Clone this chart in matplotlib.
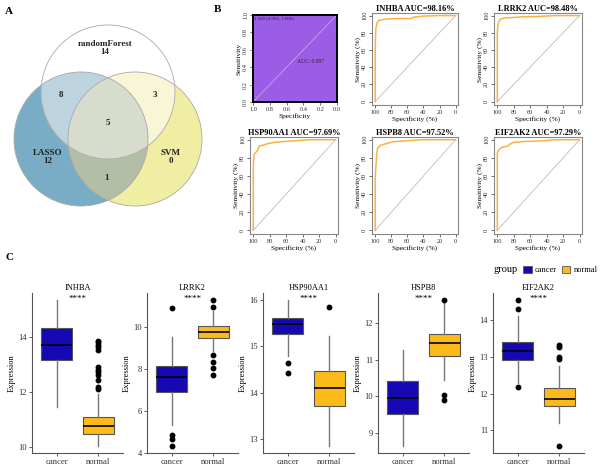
import numpy as np
import matplotlib
matplotlib.use("Agg")
import matplotlib.pyplot as plt
from matplotlib.patches import Circle, Patch, Polygon

plt.rcParams['font.family'] = ['Liberation Serif', 'DejaVu Serif']

# ---- data ----
venn_sets = ["randomForest", "LASSO", "SVM"]
venn_only = [14, 12, 0]
venn_pairs = [8, 3, 1]          # LASSO&RF, RF&SVM, LASSO&SVM
venn_all = 5

roc_genes = ["INHBA", "LRRK2", "HSP90AA1", "HSPB8", "EIF2AK2"]
roc_auc = [98.16, 98.48, 97.69, 97.52, 97.29]
roc_spec = [
    [100, 100, 99.5, 99, 97.5, 96, 93, 85, 75, 55, 53, 45, 38, 20, 0],
    [100, 100, 99, 98, 96, 92, 85, 70, 50, 30, 0],
    [100, 100, 100, 99, 97, 95, 93, 88, 84, 75, 63, 47, 30, 0],
    [100, 100, 99.5, 98, 97, 93, 89, 79, 62, 41, 0],
    [100, 100, 99, 97, 93, 87, 85, 80.5, 68, 40, 32, 0],
]
roc_sens = [
    [0, 60, 79, 86, 92, 94, 95, 96, 96.5, 96.5, 98, 99, 99.5, 100, 100],
    [0, 80, 90, 93, 96, 97, 97.5, 98.5, 99, 100, 100],
    [0, 50, 70, 84, 86, 88, 93, 94, 95.3, 97, 98, 99, 100, 100],
    [0, 56, 66, 85, 91, 94, 95, 97.6, 98.8, 100, 100],
    [0, 85, 88, 90, 92, 93, 95, 97, 98, 99, 100, 100],
]
combined_spec = [1.0, 0.0]
combined_sens = [0.0, 1.0]
combined_auc = 0.997
combined_thr = "1.500 (0.994, 1.000)"

box_genes = ["INHBA", "LRRK2", "HSP90AA1", "HSPB8", "EIF2AK2"]
groups = ["cancer", "normal"]
cancer_whislo = [11.44, 5.35, 14.80, 8.65, 12.29]
cancer_q1 = [13.16, 6.92, 15.27, 9.53, 12.91]
cancer_med = [13.71, 7.61, 15.47, 9.96, 13.16]
cancer_q3 = [14.32, 8.15, 15.61, 10.43, 13.40]
cancer_whishi = [15.32, 9.56, 15.99, 11.27, 14.11]
cancer_fliers = [[], [10.94, 4.86, 4.65, 4.35], [14.65, 14.42], [], [14.54, 14.29, 12.18]]
normal_whislo = [10.04, 8.89, 12.86, 10.45, 11.20]
normal_q1 = [10.48, 9.50, 13.72, 11.10, 11.65]
normal_med = [10.76, 9.80, 14.11, 11.45, 11.86]
normal_q3 = [11.08, 10.05, 14.46, 11.70, 12.14]
normal_whishi = [11.92, 10.77, 15.23, 12.58, 12.75]
normal_fliers = [
    [13.85, 13.79, 13.71, 13.61, 13.53, 12.90, 12.80, 12.70, 12.62, 12.41, 12.17, 12.10],
    [11.30, 11.00, 8.70, 8.33, 8.05, 7.75],
    [15.85],
    [12.63, 10.03, 9.89],
    [13.32, 13.26, 13.00, 12.94, 10.58],
]
box_yticks = [[10, 12, 14], [4, 6, 8, 10], [13, 14, 15, 16], [9, 10, 11, 12], [11, 12, 13, 14]]

W, H = 600, 467
fig = plt.figure(figsize=(6, 4.67), dpi=100)


def add_px(x0, y0, x1, y1):
    return fig.add_axes([x0 / W, 1 - y1 / H, (x1 - x0) / W, (y1 - y0) / H])


# ---- A: venn ----
ax = add_px(0, 15, 215, 215)
ax.set_xlim(0, 215)
ax.set_ylim(215, 15)
ax.axis("off")
R = 67
c_rf, c_la, c_svm = (108, 92), (81, 139), (135, 139)


def circ(c, fc, clip=None):
    p = Circle(c, R, fc=fc, ec="none")
    ax.add_patch(p)
    if clip is not None:
        p.set_clip_path(Circle(clip, R, transform=ax.transData))
    return p


circ(c_la, "#79adc6")
circ(c_svm, "#f0eea2")
circ(c_la, "#b3bea6", clip=c_svm)
circ(c_rf, "white")
circ(c_la, "#bdd3df", clip=c_rf)
circ(c_svm, "#f8f6d6", clip=c_rf)
# triple region: convex intersection of the three circles
t = np.linspace(0, 2 * np.pi, 720)
pts = np.vstack([np.column_stack([c[0] + R * np.cos(t), c[1] + R * np.sin(t)])
                 for c in (c_rf, c_la, c_svm)])
inside = np.all([np.hypot(pts[:, 0] - c[0], pts[:, 1] - c[1]) <= R + 1e-6
                 for c in (c_rf, c_la, c_svm)], axis=0)
tri = pts[inside]
ctr = tri.mean(axis=0)
tri = tri[np.argsort(np.arctan2(tri[:, 1] - ctr[1], tri[:, 0] - ctr[0]))]
ax.add_patch(Polygon(tri, closed=True, fc="#d7dccd", ec="none"))
for c in (c_rf, c_la, c_svm):
    ax.add_patch(Circle(c, R, fc="none", ec="#a8a8a8", lw=0.6))
vkw = dict(ha="center", va="center", fontsize=6.5, fontweight="bold", color="#222222")
ax.text(105, 48, f"{venn_sets[0]}\n{venn_only[0]}", linespacing=0.9, **vkw)
ax.text(48, 157, f"{venn_sets[1]}\n{venn_only[1]}", linespacing=0.9, **vkw)
ax.text(171, 157, f"{venn_sets[2]}\n{venn_only[2]}", linespacing=0.9, **vkw)
ax.text(61, 95, str(venn_pairs[0]), **vkw)
ax.text(155, 95, str(venn_pairs[1]), **vkw)
ax.text(107, 178, str(venn_pairs[2]), **vkw)
ax.text(108, 123, str(venn_all), **vkw)

# ---- B: ROC ----
orange_roc = "#fdb040"


def style_roc(ax, ticks, labels, xlab, ylab, edge):
    ax.set_xticks(ticks)
    ax.set_xticklabels(labels, fontsize=4.6)
    ax.set_yticks(ticks)
    ax.set_yticklabels(labels, fontsize=4.6, rotation=90, va="center")
    ax.tick_params(length=2, width=0.5, pad=1.5, colors="#333333")
    ax.set_xlabel(xlab, fontsize=5.3, labelpad=1)
    ax.set_ylabel(ylab, fontsize=5.3, labelpad=1)
    for s in ax.spines.values():
        s.set_color(edge)


ax = add_px(253, 15, 337, 102)
ax.set_facecolor("#9c5de6")
ax.plot(combined_spec, combined_sens, color="#c0a8e0", lw=0.6)
ax.set_xlim(1, 0)
ax.set_ylim(0, 1)
style_roc(ax, [0, 0.2, 0.4, 0.6, 0.8, 1.0], ["0.0", "0.2", "0.4", "0.6", "0.8", "1.0"],
          "Specificity", "Sensitivity", "black")
for s in ax.spines.values():
    s.set_linewidth(1.4)
ax.text(0.985, 0.955, combined_thr, fontsize=3.5, ha="left", va="center", color="#222222")
ax.text(0.32, 0.47, f"AUC: {combined_auc}", fontsize=4, ha="center", va="center", color="#222222")

roc_boxes = [(372, 13, 458, 105), (494, 13, 582, 105),
             (250, 137, 338, 234), (372, 137, 458, 234), (494, 137, 582, 234)]
for i, g in enumerate(roc_genes):
    ax = add_px(*roc_boxes[i])
    ax.plot([100, 0], [0, 100], color="#bbbbbb", lw=0.6)
    ax.plot(roc_spec[i], roc_sens[i], color=orange_roc, lw=1.1)
    ax.set_xlim(104, -3)
    ax.set_ylim(-4, 103)
    style_roc(ax, [0, 20, 40, 60, 80, 100], ["0", "20", "40", "60", "80", "100"],
              "Specificity (%)", "Sensitivity (%)", "#888888")
    ax.set_title(f"{g} AUC={roc_auc[i]:.2f}%", fontsize=6, fontweight="bold", pad=1.5)

# ---- C: boxplots ----
blue = "#1609b4"
gold = "#fcbb18"
box_left = [32, 147, 263, 378, 493]
for i, g in enumerate(box_genes):
    ax = add_px(box_left[i], 293, box_left[i] + 91, 453)
    stats = [
        dict(whislo=cancer_whislo[i], q1=cancer_q1[i], med=cancer_med[i],
             q3=cancer_q3[i], whishi=cancer_whishi[i], fliers=cancer_fliers[i]),
        dict(whislo=normal_whislo[i], q1=normal_q1[i], med=normal_med[i],
             q3=normal_q3[i], whishi=normal_whishi[i], fliers=normal_fliers[i]),
    ]
    bp = ax.bxp(stats, positions=[1, 2], widths=0.75, patch_artist=True, showcaps=False,
                boxprops=dict(ec="#555555", lw=0.8),
                medianprops=dict(color="black", lw=1.2),
                whiskerprops=dict(color="#777777", lw=1.0),
                flierprops=dict(marker="o", mfc="black", mec="black", ms=3.2))
    for patch, col in zip(bp["boxes"], [blue, gold]):
        patch.set_facecolor(col)
    lo = min(cancer_whislo[i], normal_whislo[i], *(cancer_fliers[i] + normal_fliers[i]))
    hi = max(cancer_whishi[i], normal_whishi[i], *(cancer_fliers[i] + normal_fliers[i]))
    pad = (hi - lo) * 0.05
    ax.set_ylim(lo - pad, hi + pad)
    ax.set_xlim(0.4, 2.6)
    ax.set_xticks([1, 2])
    ax.set_xticklabels(groups, fontsize=6.2)
    ax.set_yticks(box_yticks[i])
    ax.set_yticklabels([str(t) for t in box_yticks[i]], fontsize=6.2)
    ax.tick_params(length=2, width=0.6, pad=1.5, colors="#444444")
    ax.tick_params(axis="both", labelcolor="#333333")
    for s in ["top", "right"]:
        ax.spines[s].set_visible(False)
    for s in ["left", "bottom"]:
        ax.spines[s].set_color("#555555")
        ax.spines[s].set_linewidth(0.8)
    ax.set_ylabel("Expression", fontsize=6, labelpad=2)
    ax.set_title(g, fontsize=6, pad=2.5)
    ax.text(1.5, 0.99, "****", transform=ax.get_xaxis_transform(), ha="center",
            va="top", fontsize=6.5)

fig.text(493 / W, 1 - 270 / H, "group", fontsize=7.5, va="center", ha="left")
handles = [Patch(fc=blue, ec="#555555", lw=0.6), Patch(fc=gold, ec="#555555", lw=0.6)]
fig.legend(handles, groups, ncol=2, frameon=False, loc="center left",
           bbox_to_anchor=(519 / W, 1 - 270 / H), fontsize=6, handlelength=1.0,
           handleheight=1.0, columnspacing=0.6, handletextpad=0.4, borderpad=0)

fig.text(9 / W, 1 - 11 / H, "A", fontsize=8, fontweight="bold", va="center", ha="center")
fig.text(218 / W, 1 - 10 / H, "B", fontsize=8, fontweight="bold", va="center", ha="center")
fig.text(9 / W, 1 - 258 / H, "C", fontsize=8, fontweight="bold", va="center", ha="center")

fig.savefig("out.png", dpi=100)
